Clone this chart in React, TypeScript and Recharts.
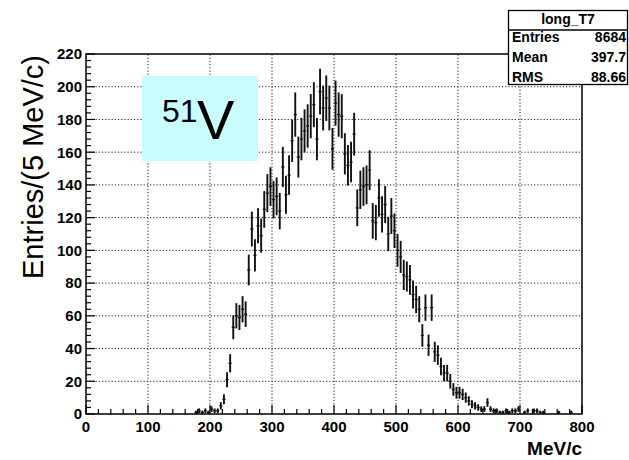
import React from "react";
import {
  ComposedChart,
  Scatter,
  ErrorBar,
  XAxis,
  YAxis,
  ReferenceLine,
  ReferenceArea,
} from "recharts";

// histogram long_T7, 5 MeV/c bins starting at 175 MeV/c
const BIN_START = 175;
const BIN_WIDTH = 5;
const COUNTS = [
  1, 2, 1, 2, 1, 3, 2, 2, 5, 9,
  21, 31, 53, 60, 59, 64, 61, 88, 113, 97,
  115, 109, 125, 135, 139, 131, 133, 124, 151, 134,
  146, 167, 183, 157, 168, 173, 176, 182, 189, 168,
  197, 187, 193, 187, 162, 190, 183, 182, 159, 152,
  154, 171, 126, 137, 139, 140, 149, 118, 117, 132,
  122, 128, 110, 121, 112, 100, 96, 85, 84, 82,
  73, 70, 64, 48, 65, 42, 65, 38, 36, 29,
  25, 25, 20, 15, 13, 13, 12, 10, 8, 6,
  5, 4, 3, 3, 7, 3, 2, 2, 1, 1,
  2, 1, 2, 2, 3, 0, 1, 2, 0, 2,
  2, 1, 1, 0, 0, 0, 0, 1, 0, 0,
  0, 1, 0, 0, 0,
];

const X_MAJOR = [0, 100, 200, 300, 400, 500, 600, 700, 800];
const Y_MAJOR = [0, 20, 40, 60, 80, 100, 120, 140, 160, 180, 200, 220];
const X_TICKS = Array.from({ length: 41 }, (_, i) => i * 20);
const Y_TICKS = Array.from({ length: 56 }, (_, i) => i * 4);

const STAT_TITLE = "long_T7";
const STAT_LABELS = ["Entries", "Mean", "RMS"];
const STAT_VALUES = ["8684", "397.7", "88.66"];

const FONT = '"Liberation Sans", Arial, Helvetica, sans-serif';

// empty bins are not drawn
const points = COUNTS.map((n, i) => ({
  x: BIN_START + BIN_WIDTH * (i + 0.5),
  y: n,
  err: Math.sqrt(n),
  xerr: BIN_WIDTH / 2,
})).filter((p) => p.y > 0);

function XTick(props: any) {
  const { x, y, payload } = props;
  const major = X_MAJOR.includes(payload.value);
  return (
    <g>
      <line x1={x} x2={x} y1={y} y2={y - (major ? 9 : 5)} stroke="#000" strokeWidth={1.2} />
      {major && (
        <text x={x} y={y + 18} textAnchor="middle" fontFamily={FONT} fontWeight="bold" fontSize={15} fill="#000">
          {payload.value}
        </text>
      )}
    </g>
  );
}

function YTick(props: any) {
  const { x, y, payload } = props;
  const major = Y_MAJOR.includes(payload.value);
  return (
    <g>
      <line x1={x} x2={x + (major ? 9 : 5)} y1={y} y2={y} stroke="#000" strokeWidth={1.2} />
      {major && (
        <text x={x - 4} y={y} dy="0.36em" textAnchor="end" fontFamily={FONT} fontWeight="bold" fontSize={15} fill="#000">
          {payload.value}
        </text>
      )}
    </g>
  );
}

const emptyShape = () => <g />;

export default function App() {
  return (
    <div style={{ position: "absolute", left: 0, top: 0, width: 629, height: 460, background: "#fff" }}>
      <ComposedChart
        width={629}
        height={460}
        data={points}
        margin={{ top: 54, right: 47, bottom: 0, left: 0 }}
      >
        <XAxis
          dataKey="x"
          type="number"
          domain={[0, 800]}
          ticks={X_TICKS}
          interval={0}
          tickSize={0}
          tickMargin={0}
          tick={<XTick />}
          axisLine={false}
          height={46}
        />
        <YAxis
          dataKey="y"
          type="number"
          domain={[0, 220]}
          ticks={Y_TICKS}
          interval={0}
          tickSize={0}
          tickMargin={0}
          tick={<YTick />}
          axisLine={false}
          width={86}
        />
        {X_MAJOR.slice(1, -1).map((v) => (
          <ReferenceLine key={`gx${v}`} x={v} stroke="#222" strokeWidth={1} strokeDasharray="1.2 2" />
        ))}
        {Y_MAJOR.slice(1, -1).map((v) => (
          <ReferenceLine key={`gy${v}`} y={v} stroke="#222" strokeWidth={1} strokeDasharray="1.2 2" />
        ))}
        <ReferenceArea x1={0} x2={800} y1={0} y2={220} fill="none" stroke="#000" strokeWidth={1.5} />
        <Scatter dataKey="y" shape={emptyShape} isAnimationActive={false}>
          <ErrorBar dataKey="err" direction="y" width={0} stroke="#111" strokeWidth={1.9} isAnimationActive={false} />
          <ErrorBar dataKey="xerr" direction="x" width={0} stroke="#111" strokeWidth={1.3} isAnimationActive={false} />
        </Scatter>
      </ComposedChart>

      <svg
        width={629}
        height={460}
        style={{ position: "absolute", left: 0, top: 0, pointerEvents: "none" }}
        fontFamily={FONT}
      >
        <text x={43} y={167} transform="rotate(-90 43 167)" textAnchor="middle" fontSize={29} fill="#000">
          Entries/(5 MeV/c)
        </text>
        <text x={582} y={455} textAnchor="end" fontSize={19} fontWeight="bold" fill="#000">
          MeV/c
        </text>

        <rect x={142} y={76} width={116} height={85} fill="#c9fcfd" />
        <text x={162} y={122} fontSize={32} fill="#000">51</text>
        <text x={197} y={139} fontSize={56} fill="#000">V</text>

        <rect x={508.5} y={10.5} width={119} height={74} fill="#fff" stroke="#000" strokeWidth={1.3} />
        <line x1={508.5} x2={627.5} y1={30} y2={30} stroke="#000" strokeWidth={1.3} />
        <text x={568} y={24} textAnchor="middle" fontSize={14} fontWeight="bold" fill="#000">
          {STAT_TITLE}
        </text>
        {STAT_LABELS.map((label, i) => (
          <g key={label}>
            <text x={512} y={42 + i * 20} fontSize={14} fontWeight="bold" fill="#000">{label}</text>
            <text x={626} y={42 + i * 20} textAnchor="end" fontSize={14} fontWeight="bold" fill="#000">
              {STAT_VALUES[i]}
            </text>
          </g>
        ))}
      </svg>
    </div>
  );
}
